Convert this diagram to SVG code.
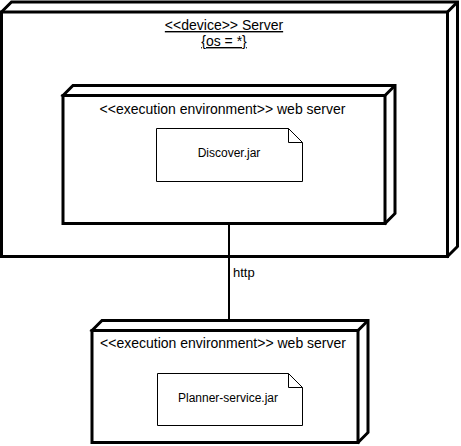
<svg xmlns="http://www.w3.org/2000/svg" width="461" height="446" viewBox="0 0 461 446">
<style>
.node{fill:#fff;stroke:#000;stroke-width:3;stroke-linejoin:miter}
.art{fill:#fff;stroke:#000;stroke-width:1}
.fold{fill:none;stroke:#000;stroke-width:1}
.t{font-family:"Liberation Sans",Arial,sans-serif;fill:#000}
.conn{stroke:#000;stroke-width:2;fill:none}
</style>
<rect width="461" height="446" fill="#fff"/>
<g id="server">
  <path class="node" d="M1.5,12 L11.5,2 L457.5,2 L457.5,246.5 L447.5,256.5 Z"/>
  <rect class="node" x="1.5" y="12" width="446" height="244.5"/>
  <line class="node" x1="447.5" y1="12" x2="457.5" y2="2"/>
  <text class="t" x="224" y="30" font-size="14" text-anchor="middle" text-decoration="underline">&lt;&lt;device&gt;&gt; Server</text>
  <text class="t" x="224" y="46" font-size="14" text-anchor="middle" text-decoration="underline">{os = *}</text>
</g>
<g id="webserver1">
  <path class="node" d="M63,95.5 L73,85.5 L395,85.5 L395,213.5 L385,223.5 Z"/>
  <rect class="node" x="63" y="95.5" width="322" height="128"/>
  <line class="node" x1="385" y1="95.5" x2="395" y2="85.5"/>
  <text class="t" x="222.5" y="114" font-size="14" text-anchor="middle">&lt;&lt;execution environment&gt;&gt; web server</text>
</g>
<g id="discover">
  <path class="art" d="M156.5,128.5 L288.5,128.5 L302.5,142.5 L302.5,181.5 L156.5,181.5 Z"/>
  <path class="fold" d="M288.5,128.5 L288.5,142.5 L302.5,142.5"/>
  <text class="t" x="229" y="157" font-size="12" text-anchor="middle">Discover.jar</text>
</g>
<g id="connectors">
  <line class="conn" x1="229" y1="225" x2="229" y2="320"/>
  <text class="t" x="233" y="277" font-size="13">http</text>
</g>
<g id="webserver2">
  <path class="node" d="M92,330.5 L102,320.5 L368,320.5 L368,432.5 L358,442.5 Z"/>
  <rect class="node" x="92" y="330.5" width="266" height="112"/>
  <line class="node" x1="358" y1="330.5" x2="368" y2="320.5"/>
  <text class="t" x="223" y="348" font-size="14" text-anchor="middle">&lt;&lt;execution environment&gt;&gt; web server</text>
</g>
<g id="planner">
  <path class="art" d="M157.5,373.5 L288.5,373.5 L302.5,387.5 L302.5,425.5 L157.5,425.5 Z"/>
  <path class="fold" d="M288.5,373.5 L288.5,387.5 L302.5,387.5"/>
  <text class="t" x="228" y="402" font-size="12" text-anchor="middle">Planner-service.jar</text>
</g>
</svg>
